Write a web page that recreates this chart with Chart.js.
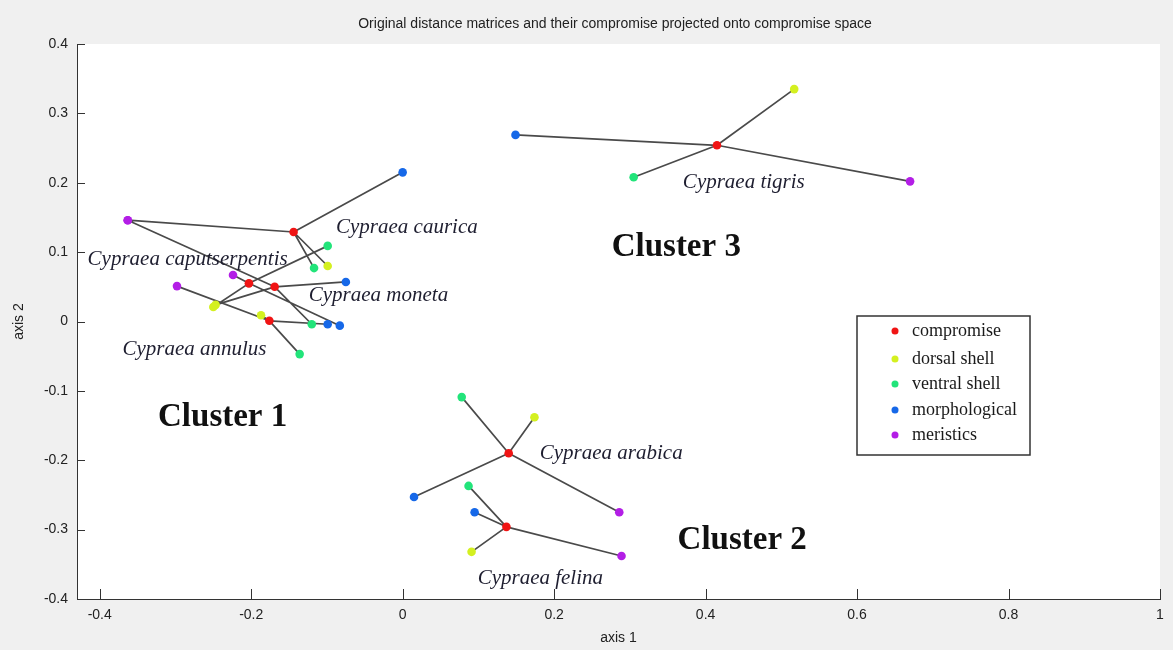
<!DOCTYPE html>
<html lang="en">
<head>
<meta charset="UTF-8" />
<title>Compromise space</title>
<script src="https://cdn.jsdelivr.net/npm/chart.js"></script>
<style>
  html, body { margin: 0; padding: 0; background: #f0f0f0; }
  #wrap { width: 1173px; height: 650px; }
</style>
</head>
<body>
<div id="wrap"><canvas id="proj"></canvas></div>
<script>
  // one row per species, [axis 1, axis 2]
  const species = ['caurica', 'caputserpentis', 'moneta', 'annulus', 'tigris', 'arabica', 'felina'];
  const compromise    = [[-0.144, 0.129], [-0.203, 0.055], [-0.169, 0.050], [-0.176, 0.001], [0.415, 0.254], [0.140, -0.190], [0.137, -0.296]];
  const dorsal        = [[-0.099, 0.080], [-0.250, 0.021], [-0.247, 0.024], [-0.187, 0.009], [0.517, 0.335], [0.174, -0.138], [0.091, -0.332]];
  const ventral       = [[-0.117, 0.077], [-0.099, 0.109], [-0.120, -0.004], [-0.136, -0.047], [0.305, 0.208], [0.078, -0.109], [0.087, -0.237]];
  const morphological = [[0.000, 0.215], [-0.083, -0.006], [-0.075, 0.057], [-0.099, -0.004], [0.149, 0.269], [0.015, -0.253], [0.095, -0.275]];
  const meristics     = [[-0.363, 0.146], [-0.224, 0.067], [-0.363, 0.146], [-0.298, 0.051], [0.670, 0.202], [0.286, -0.275], [0.289, -0.338]];

  const xTicks = [-0.4, -0.2, 0, 0.2, 0.4, 0.6, 0.8, 1];
  const yTicks = [-0.4, -0.3, -0.2, -0.1, 0, 0.1, 0.2, 0.3, 0.4];

  // text notes, anchored at their left/middle in axis units
  const notes = [
    { text: 'Cypraea caurica',        x: -0.088, y: 0.135,  kind: 'species' },
    { text: 'Cypraea caputserpentis', x: -0.416, y: 0.089,  kind: 'species' },
    { text: 'Cypraea moneta',         x: -0.124, y: 0.038,  kind: 'species' },
    { text: 'Cypraea annulus',        x: -0.370, y: -0.041, kind: 'species' },
    { text: 'Cypraea tigris',         x: 0.370,  y: 0.200,  kind: 'species' },
    { text: 'Cypraea arabica',        x: 0.181,  y: -0.190, kind: 'species' },
    { text: 'Cypraea felina',         x: 0.099,  y: -0.370, kind: 'species' },
    { text: 'Cluster 1',              x: -0.323, y: -0.138, kind: 'cluster' },
    { text: 'Cluster 3',              x: 0.276,  y: 0.107,  kind: 'cluster' },
    { text: 'Cluster 2',              x: 0.363,  y: -0.316, kind: 'cluster' }
  ];

  const toPts = arr => arr.map(([x, y]) => ({ x, y }));

  // every source joined to its species' compromise, gaps between segments
  const links = [];
  species.forEach((s, i) => {
    [dorsal, ventral, morphological, meristics].forEach(src => {
      links.push({ x: compromise[i][0], y: compromise[i][1] });
      links.push({ x: src[i][0], y: src[i][1] });
      links.push({ x: null, y: null });
    });
  });

  function pointSet(label, data, color) {
    return {
      type: 'scatter',
      label,
      data: toPts(data),
      backgroundColor: color,
      borderColor: color,
      borderWidth: 0,
      pointRadius: 4.3,
      pointHoverRadius: 4.3,
      order: 1
    };
  }

  const sansFont = { family: "'Liberation Sans', Arial, sans-serif", size: 14 };

  const backdrop = {
    id: 'backdrop',
    beforeDraw(chart) {
      const { ctx, chartArea: a } = chart;
      ctx.save();
      ctx.fillStyle = '#f0f0f0';
      ctx.fillRect(0, 0, chart.width, chart.height);
      ctx.fillStyle = '#ffffff';
      ctx.fillRect(a.left, a.top, a.right - a.left, a.bottom - a.top);
      ctx.fillStyle = '#222';
      ctx.font = "14px 'Liberation Sans', Arial, sans-serif";
      ctx.textAlign = 'center';
      ctx.textBaseline = 'middle';
      ctx.fillText('Original distance matrices and their compromise projected onto compromise space', 615, 24);
      ctx.restore();
    }
  };

  // MATLAB style ticks pointing into the axes
  const innerTicks = {
    id: 'innerTicks',
    afterDraw(chart) {
      const { ctx, chartArea: a, scales } = chart;
      ctx.save();
      ctx.strokeStyle = '#333';
      ctx.lineWidth = 1;
      ctx.beginPath();
      xTicks.forEach(v => {
        const px = Math.round(scales.x.getPixelForValue(v)) + 0.5;
        ctx.moveTo(px, a.bottom);
        ctx.lineTo(px, a.bottom - 10);
      });
      yTicks.forEach(v => {
        const py = Math.round(scales.y.getPixelForValue(v)) + 0.5;
        ctx.moveTo(a.left, py);
        ctx.lineTo(a.left + 8, py);
      });
      ctx.stroke();
      ctx.restore();
    }
  };

  const annotations = {
    id: 'annotations',
    afterDatasetsDraw(chart) {
      const { ctx, scales } = chart;
      ctx.save();
      ctx.textAlign = 'left';
      ctx.textBaseline = 'middle';
      notes.forEach(n => {
        if (n.kind === 'cluster') {
          ctx.font = "bold 33px 'Liberation Serif', 'Times New Roman', serif";
          ctx.fillStyle = '#111';
        } else {
          ctx.font = "italic 21px 'Liberation Serif', 'Times New Roman', serif";
          ctx.fillStyle = '#1e1e30';
        }
        ctx.fillText(n.text, scales.x.getPixelForValue(n.x), scales.y.getPixelForValue(n.y));
      });
      ctx.restore();
    }
  };

  const boxLegend = {
    id: 'boxLegend',
    afterDraw(chart) {
      const { ctx } = chart;
      const box = { left: 857, top: 316, width: 173, height: 139 };
      const rows = [331, 359, 384, 410, 435];
      ctx.save();
      ctx.fillStyle = '#fff';
      ctx.fillRect(box.left, box.top, box.width, box.height);
      ctx.strokeStyle = '#333';
      ctx.lineWidth = 1.5;
      ctx.strokeRect(box.left, box.top, box.width, box.height);
      ctx.font = "18px 'Liberation Serif', 'Times New Roman', serif";
      ctx.textAlign = 'left';
      ctx.textBaseline = 'middle';
      const sets = chart.data.datasets.filter(d => d.type === 'scatter');
      sets.forEach((d, i) => {
        ctx.fillStyle = d.backgroundColor;
        ctx.beginPath();
        ctx.arc(895, rows[i], 3.5, 0, Math.PI * 2);
        ctx.fill();
        ctx.fillStyle = '#1a1a1a';
        ctx.fillText(d.label, 912, rows[i]);
      });
      ctx.restore();
    }
  };

  new Chart(document.getElementById('proj'), {
    data: {
      datasets: [
        pointSet('compromise', compromise, '#f01414'),
        pointSet('dorsal shell', dorsal, '#d4f020'),
        pointSet('ventral shell', ventral, '#22e47a'),
        pointSet('morphological', morphological, '#1668e8'),
        pointSet('meristics', meristics, '#b31ee6'),
        {
          type: 'line',
          label: 'links',
          data: links,
          borderColor: '#4a4a4a',
          borderWidth: 1.7,
          pointRadius: 0,
          spanGaps: false,
          fill: false,
          order: 5
        }
      ]
    },
    options: {
      responsive: true,
      maintainAspectRatio: false,
      animation: false,
      events: [],
      layout: { padding: { top: 44, right: 13, left: 0, bottom: 0 } },
      plugins: {
        legend: { display: false },
        tooltip: { enabled: false }
      },
      scales: {
        x: {
          type: 'linear',
          min: -0.43,
          max: 1,
          afterBuildTicks: s => { s.ticks = xTicks.map(value => ({ value })); },
          afterFit: s => { s.height = 51; },
          grid: { display: true, drawOnChartArea: false, drawTicks: false },
          border: { display: true, color: '#333', width: 1 },
          ticks: {
            padding: 8,
            color: '#222',
            font: sansFont,
            maxRotation: 0,
            callback: v => String(+v.toFixed(1))
          },
          title: { display: true, text: 'axis 1', color: '#222', font: sansFont, padding: { top: 0, bottom: 3 } }
        },
        y: {
          type: 'linear',
          min: -0.4,
          max: 0.4,
          afterBuildTicks: s => { s.ticks = yTicks.map(value => ({ value })); },
          afterFit: s => { s.width = 77; },
          grid: { display: true, drawOnChartArea: false, drawTicks: false },
          border: { display: true, color: '#333', width: 1 },
          ticks: {
            padding: 9,
            color: '#222',
            font: sansFont,
            callback: v => String(+v.toFixed(1))
          },
          title: { display: true, text: 'axis 2', color: '#222', font: sansFont, padding: { top: 11, bottom: 0 } }
        }
      }
    },
    plugins: [backdrop, innerTicks, annotations, boxLegend]
  });
</script>
</body>
</html>
